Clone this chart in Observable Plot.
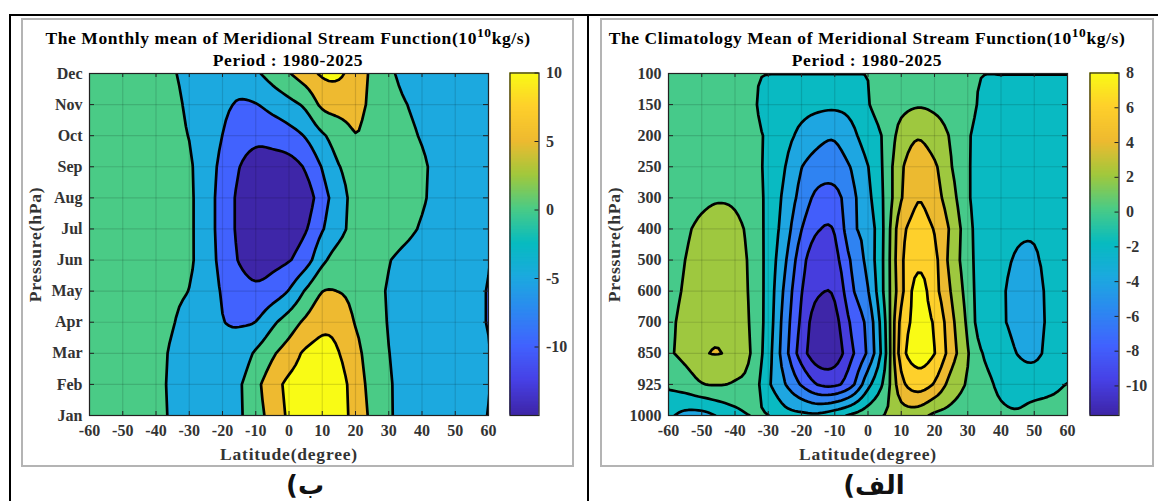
<!DOCTYPE html>
<html><head><meta charset="utf-8">
<script src="https://cdn.jsdelivr.net/npm/d3@7"></script>
<script src="https://cdn.jsdelivr.net/npm/@observablehq/plot@0.6"></script>
<style>
html,body{margin:0;padding:0;background:#fff;overflow:hidden}
#page{position:relative;width:1158px;height:501px;font-family:"Liberation Serif",serif;font-weight:bold}
.rule{position:absolute;background:#000}
.box{position:absolute;border:2px solid #b4b4b4;box-sizing:border-box}
.title{position:absolute;text-align:center;color:#000;white-space:nowrap;transform:translateX(-50%);font-size:17.5px;letter-spacing:.58px;line-height:18px}
.title sup{font-size:13.5px;line-height:0;vertical-align:7px}
.cap{position:absolute;direction:rtl;white-space:nowrap;transform:translateX(-50%);font-family:"DejaVu Sans";font-weight:bold;font-size:26px;color:#111}
svg{position:absolute;overflow:visible}
g[aria-label="x-axis label"] text,g[aria-label="y-axis label"] text{font-size:17.5px;letter-spacing:.8px}
</style></head><body><div id="page"></div>
<script>
const latitudes = d3.range(-60, 61, 5);
const latTicks = d3.range(-60, 61, 10);
const months = ["Dec","Nov","Oct","Sep","Aug","Jul","Jun","May","Apr","Mar","Feb","Jan"];
const pressures = [100,150,200,250,300,400,500,600,700,850,925,1000];
const parula = ["#3E26A8","#4741E5","#4162FE","#2D87F1","#1CA9DF","#07BBC0","#4ACB86","#A2C83C","#EEBA30","#FED02B","#F9FB15"];
const monthlyLevels = [-15,-10,-5,0,5,10];
const monthlyRange = [-15,10];
const climLevels = [-13,-10,-8,-6,-4,-2,0,2,4,6,8];
const climRange = [-11.7,8];
const monthlyTicks = [-10,-5,0,5,10];
const climTicks = [-10,-8,-6,-4,-2,0,2,4,6,8];

// values by month (rows, Dec..Jan) and latitude (columns, -60..60 every 5 degrees)
const monthly = [
[2,2,2,1.5,1.5,.3,-1,-2.5,-3.5,-3,-.8,2,4.7,7.7,10.6,10.8,7.5,4.2,1.1,-1.5,-2.5,-3,-3,-3,-3],
[2,2,2,1.5,1.2,.8,-.65,-2.3,-4,-5.4,-5.2,-3.35,-1.4,1,6,6.8,6,4.3,2.3,.2,-1.2,-1.8,-2.5,-3,-3],
[1.5,1.5,1.5,1.2,1,.5,-.1,-2.5,-5.05,-8,-9.1,-8.5,-7,-4.6,-.75,2.4,4.9,3.5,2.5,1.2,-.4,-2,-3,-3,-3],
[1.5,1.5,1.5,1.2,1,.7,.5,-2.8,-6.2,-9.9,-11.5,-12,-12,-9.4,-4.7,-.2,1.5,2.5,2.5,2,.8,-1.6,-3,-3.2,-3.3],
[1.5,1.5,1.5,1.2,1,.8,.7,-2.9,-6.8,-11,-13.5,-14,-13.5,-12.5,-7.1,-2.2,1.5,2.2,2.5,2,.6,-1.7,-3,-3.3,-3.4],
[1.5,1.5,1.5,1.2,1,.8,.7,-2.9,-6.8,-11,-13.5,-13.5,-12.5,-10.4,-5.4,-1.5,1.5,2,2.2,1.2,-.5,-2,-3,-3.3,-3.4],
[1.5,1.5,1.5,1.2,1,.8,.7,-2.8,-6.4,-10.3,-12,-11.5,-10.3,-7.2,-1.2,2,1.8,1.6,.2,-1.3,-2.5,-3.2,-3.5,-4,-4.9],
[1.5,1.5,1.5,1.2,1,.6,-.1,-2.7,-5.4,-7.8,-9.06,-7.8,-4.7,.5,4.9,4.9,3.5,1.8,-.4,-1.5,-2.5,-3.2,-3.6,-4.2,-5.1],
[1.5,1.5,1.5,1.2,1,.2,-1.5,-3,-4.85,-5.4,-4.9,-1,2.5,6,8.9,8.5,4.7,2.8,-.3,-1.5,-2.5,-3.2,-3.6,-4.2,-5.1],
[1.5,1.5,1.5,1.2,1,-.5,-2,-3,-3.4,-2.8,.7,4.3,7.4,10.8,11.5,10.1,6.5,2.6,.1,-1.5,-2.5,-3.2,-3.6,-4.2,-4.86],
[1.5,1.5,1.5,1.5,1.3,-.9,-2.3,-3,-2.9,-.6,3.7,7.7,11.2,12.5,13,11.8,7.8,3.2,.5,-1.5,-2.5,-3.2,-3.6,-4.2,-4.92],
[1.5,1.5,1.5,1.5,1.2,-.6,-2,-3,-2.5,-.7,3.3,6.6,10.8,12.5,13,11.5,8.5,3.8,.6,-1.5,-2.5,-3.2,-3.6,-4.2,-5.05]
];
// values by pressure (rows, 100..1000 hPa) and latitude (columns, -60..60 every 5 degrees)
const climatology = [
[.4,.4,.4,.4,.4,.15,.03,.03,.03,.03,.03,.03,.03,.3,.5,.5,.5,.5,.3,.03,.03,.03,.03,.03,.03],
[.5,.5,.5,.5,.5,.4,-1,-1.2,-1.3,-1.5,-1.6,-1.3,-.1,.8,1.4,1.8,1.6,1.2,.8,-.6,-.7,-.8,-.8,-.8,-.7],
[.5,.5,.5,.5,.5,.5,-.3,-1.35,-2.5,-3.5,-3.8,-2.6,-.9,.3,2.8,3.85,3,1.8,.25,-1,-1.1,-1.1,-1.1,-1.1,-1],
[.5,.5,.6,.6,.6,.5,-.4,-1.95,-3.95,-4.8,-4.9,-3.9,-2.05,.4,3.7,5,4.3,2.1,.25,-1.2,-1.3,-1.4,-1.4,-1.3,-1.2],
[.8,1,1.5,1.8,1.6,.7,-.4,-2.5,-4.7,-6.6,-6.7,-4.6,-2.5,.3,3.85,5.9,4.8,2.8,.3,-1.3,-1.5,-1.7,-1.7,-1.5,-1.3],
[1.2,1.7,2.5,3,2.6,1.3,-.6,-2.93,-5.95,-7.85,-7.85,-4.5,-3.2,.32,5.3,6.6,5.89,3.64,.8,-1.5,-1.6,-1.85,-1.9,-1.7,-1.5],
[1.4,2,3,3.3,3,1.5,-.7,-3.7,-7.2,-9.5,-8.6,-5.8,-3.3,.4,5.6,7.45,6.5,3.3,.9,-1.5,-1.75,-2.1,-2.1,-1.7,-1.5],
[1.5,2.2,3.2,3.5,3,1.6,-.8,-4.4,-7.9,-9.7,-9.7,-6.4,-4.1,.4,5.4,8.8,6.7,3.9,1.2,-1.6,-1.85,-2.4,-2.4,-1.7,-1.5],
[1.7,2.5,3.3,3.7,3.2,1.7,-.9,-4.9,-8.4,-11.2,-10.6,-7.7,-5.3,-.3,6.6,8.4,7.8,4.6,1.6,-1.7,-1.8,-2.5,-2.5,-1.7,-1.4],
[1.8,2.6,3.75,4.06,3.4,1.85,-1.2,-5.2,-9,-11.4,-11.2,-8.4,-5.6,-.6,7,8.9,8.05,5,2.15,-.2,-1.1,-2.05,-2.35,-1.5,-1.2],
[.35,1,1.9,2.1,1.8,1.2,-1.65,-3.9,-6.2,-8.1,-8.4,-6.6,-2.6,.5,5.3,7,5.8,3.2,1.8,.7,-.5,-1.1,-1.1,-.6,.05],
[-1.7,-2.6,-2.7,-1.8,-.7,.06,.02,-1.2,-1.5,-1.55,-.7,.3,1.2,2.05,3,2.8,1.6,1.3,1.1,1,.46,.31,1,1.07,1]
];

const ink = "#333";
const font = {fontFamily:"Liberation Serif", fontWeight:"bold", fontSize:16};
const ramp = d3.piecewise(d3.interpolateRgb, parula);
const plain = d => String(d);

// The contour mark draws the read values with a cardinal curve along each latitude row,
// the same way a line mark would smooth its points: every read value stays on the surface.
const curveSteps = 5;
function curveRow(row){
  const out = [];
  for(let i=0;i<row.length-1;i++){
    const p0=row[Math.max(i-1,0)], p1=row[i], p2=row[i+1], p3=row[Math.min(i+2,row.length-1)];
    for(let k=0;k<curveSteps;k++){
      const t=k/curveSteps, t2=t*t, t3=t2*t;
      out.push(.5*(2*p1+(p2-p0)*t+(2*p0-5*p1+4*p2-p3)*t2+(3*p1-p0-3*p2+p3)*t3));
    }
  }
  out.push(row[row.length-1]);
  return out;
}

function panel(rows, levels, range, labels, left){
  const h = 400, mt = 9, mb = 49, tick = 4;
  const cols = (latitudes.length-1)*curveSteps+1, half = 5/curveSteps/2;
  const svg = Plot.plot({
    width:500, height:h, marginLeft:67, marginRight:34, marginTop:mt, marginBottom:mb,
    style:{...font, background:"transparent", overflow:"visible"},
    x:{domain:[-60,60]},
    y:{domain:[0,11], reverse:true},
    color:{type:"linear", domain:range, interpolate:ramp, clamp:true},
    marks:[
      Plot.contour(rows.flatMap(curveRow), {width:cols, height:rows.length, x1:-60-half, x2:60+half, y1:-.5, y2:11.5,
        thresholds:levels, fill:Plot.identity, stroke:"#000", strokeWidth:2.7, strokeLinejoin:"round", clip:true}),
      Plot.gridX(latTicks,{stroke:"#000", strokeOpacity:.13, strokeWidth:1.2}),
      Plot.gridY(d3.range(12),{stroke:"#000", strokeOpacity:.13, strokeWidth:1.2}),
      Plot.tickX(latTicks,{x:d=>d, insetTop:h-mt-mb-tick, stroke:"#222"}),
      Plot.tickX(latTicks,{x:d=>d, insetBottom:h-mt-mb-tick, stroke:"#222"}),
      Plot.tickY(d3.range(12),{y:d=>d, insetLeft:398-tick, stroke:"#222"}),
      Plot.tickY(d3.range(12),{y:d=>d, insetRight:398-tick, stroke:"#222"}),
      Plot.frame({stroke:"#222", strokeWidth:1.2}),
      Plot.axisX(latTicks,{tickSize:0, tickPadding:9, color:ink, tickFormat:plain, label:"Latitude(degree)", labelAnchor:"center", labelArrow:"none", labelOffset:44}),
      Plot.axisY(d3.range(12),{tickSize:0, tickPadding:7, color:ink, tickFormat:i=>String(labels[i]), label:"Pressure(hPa)", labelAnchor:"center", labelArrow:"none", labelOffset:61})
    ]
  });
  svg.style.left = left+"px"; svg.style.top = "64px";
  return svg;
}

function colorbar(range, ticks, left){
  const h = 400, mt = 8.5, mb = 49;
  const step = (range[1]-range[0])/256;
  const steps = d3.range(range[0], range[1]-step/2, step);
  const svg = Plot.plot({
    width:90, height:h, marginLeft:9.5, marginRight:51.5, marginTop:mt, marginBottom:mb,
    style:{...font, background:"transparent", overflow:"visible"},
    x:{axis:null, domain:[0,1]},
    y:{domain:range, axis:null},
    color:{type:"linear", domain:range, interpolate:ramp},
    marks:[
      Plot.rect(steps,{x1:0, x2:1, y1:d=>d, y2:d=>Math.min(d+step*2,range[1]), fill:d=>d}),
      Plot.tickY(ticks,{y:d=>d, insetLeft:25, stroke:"#222"}),
      Plot.frame({stroke:"#222", strokeWidth:1.2}),
      Plot.axisY(ticks,{anchor:"right", tickSize:0, tickPadding:7, color:ink, tickFormat:plain, label:null})
    ]
  });
  svg.style.left = left+"px"; svg.style.top = "64px";
  return svg;
}

const page = document.getElementById("page");
function div(cls, css, html){
  const d = document.createElement("div"); d.className = cls; Object.assign(d.style, css);
  if(html) d.innerHTML = html; page.appendChild(d);
}
div("rule",{left:"9px",top:"14px",width:"1149px",height:"2px"});
div("rule",{left:"9px",top:"14px",width:"2px",height:"487px"});
div("rule",{left:"587px",top:"14px",width:"2px",height:"487px"});
div("box",{left:"21px",top:"18px",width:"553px",height:"449px"});
div("box",{left:"600px",top:"18px",width:"554px",height:"449px"});
page.appendChild(panel(monthly, monthlyLevels, monthlyRange, months, 22));
page.appendChild(colorbar(monthlyRange, monthlyTicks, 500));
page.appendChild(panel(climatology, climLevels, climRange, pressures, 601));
page.appendChild(colorbar(climRange, climTicks, 1080));
div("title",{left:"288px",top:"29px"},"The Monthly mean of Meridional Stream Function(10<sup>10</sup>kg/s)");
div("title",{left:"288px",top:"51px"},"Period : 1980-2025");
div("title",{left:"867px",top:"29px"},"The Climatology Mean of Meridional Stream Function(10<sup>10</sup>kg/s)");
div("title",{left:"867px",top:"51px"},"Period : 1980-2025");
div("cap",{left:"305px",top:"470px"},"ب)");
div("cap",{left:"874px",top:"470px"},"الف)");
</script></body></html>
